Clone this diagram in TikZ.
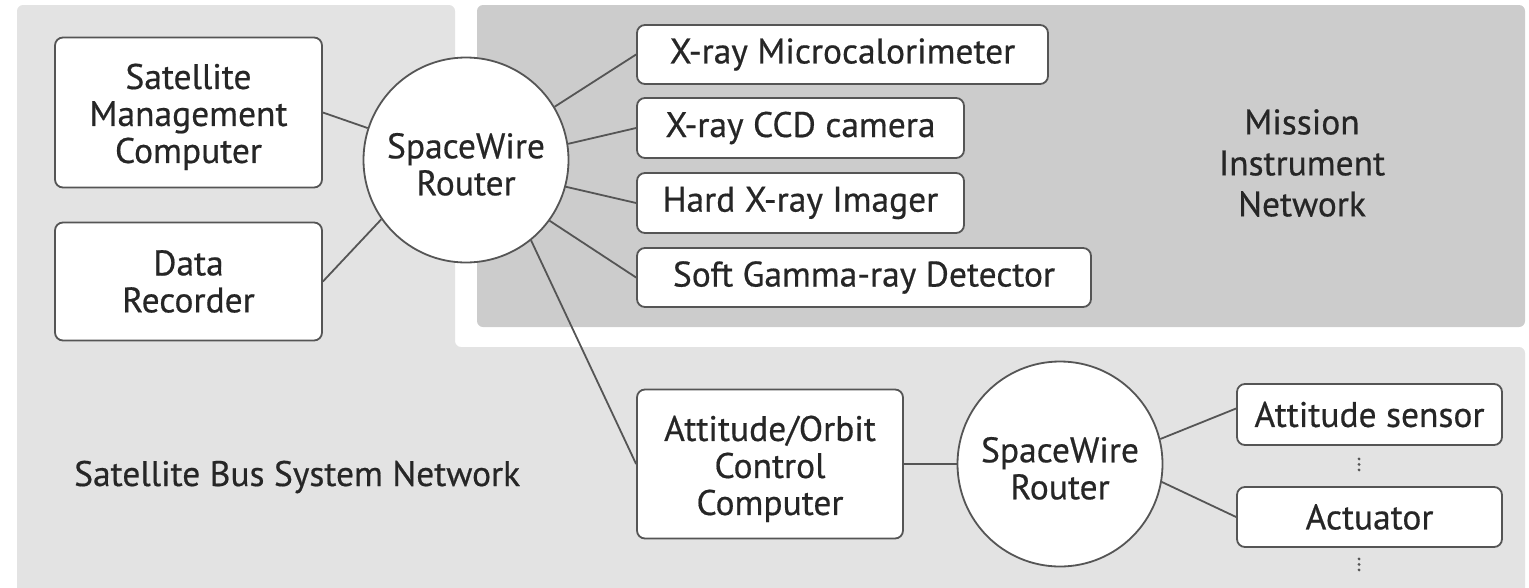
\documentclass[tikz,border=0pt]{standalone}
\usepackage{fontspec}
\setmainfont{PT Sans}[FakeBold=0.5]
\usetikzlibrary{calc}
\definecolor{lightbg}{HTML}{E3E3E3}
\definecolor{darkbg}{HTML}{CCCCCC}
\definecolor{edge}{HTML}{555555}
\definecolor{ink}{HTML}{262626}
\newcommand{\toppad}[1]{\rule{0pt}{#1}}
\tikzset{
  lbl/.style={font=\fontsize{35.5}{37}\selectfont, text=ink, align=center, inner sep=0pt},
  unitbox/.style={lbl, draw=edge, line width=1.8pt, fill=white, rounded corners=8pt},
  router/.style={lbl, draw=edge, line width=1.8pt, fill=white, circle, minimum size=205pt},
  link/.style={draw=edge, line width=1.8pt},
}
\begin{document}
\begin{tikzpicture}[x=1pt,y=-1pt]
\useasboundingbox (0,0) rectangle (1529,587);
% regions
\fill[lightbg, rounded corners=6pt] (17,5) -- (455,5) -- (455,347) -- (1525,347) -- (1525,600) -- (17,600) -- cycle;
\fill[darkbg, rounded corners=6pt] (477,5) rectangle (1525,327);
% nodes
\node[unitbox, minimum width=267pt, minimum height=150pt] (smc) at (188.5,112.5) {\toppad{34pt}Satellite\\Management\\Computer};
\node[unitbox, minimum width=267pt, minimum height=118pt] (dr) at (188.5,281.5) {Data\\Recorder};
\node[router] (swr1) at (466,160) {\toppad{34pt}SpaceWire\\Router};
\node[unitbox, minimum width=411pt, minimum height=59pt] (xmc) at (842.5,54.5) {X-ray Microcalorimeter};
\node[unitbox, minimum width=327pt, minimum height=60pt] (ccd) at (800.5,128) {X-ray CCD camera};
\node[unitbox, minimum width=327pt, minimum height=60pt] (hxi) at (800.5,203) {Hard X-ray Imager};
\node[unitbox, minimum width=454pt, minimum height=59pt] (sgd) at (864,277.5) {Soft Gamma-ray Detector};
\node[unitbox, minimum width=266pt, minimum height=149pt] (aocc) at (770,464) {\toppad{35pt}Attitude/Orbit\\Control\\Computer};
\node[router] (swr2) at (1060,464) {\toppad{34pt}SpaceWire\\Router};
\node[unitbox, minimum width=265pt, minimum height=61pt] (as) at (1369.5,414.5) {Attitude sensor};
\node[unitbox, minimum width=265pt, minimum height=60pt] (act) at (1369.5,517) {Actuator};
\node[lbl, anchor=base west] (busnet) at (74,486) {Satellite Bus System Network};
\node[lbl, font=\fontsize{35.5}{41}\selectfont] (minet) at (1302,163) {Mission\\Instrument\\Network};
% connectors
\draw[link] (smc.east) -- (swr1.162);
\draw[link] (dr.east) -- (swr1.215.5);
\draw[link] (swr1.31) -- (xmc.west);
\draw[link] (swr1.9.6) -- (ccd.west);
\draw[link] (swr1.-15) -- (hxi.west);
\draw[link] (swr1.-36.4) -- (sgd.west);
\draw[link] (swr1.-51) -- (aocc.west);
\draw[link] (aocc.east) -- (swr2.west);
\draw[link] (swr2.14) -- ($(as.west)+(0,-6)$);
\draw[link] (swr2.-10) -- (act.west);
% continuation dots
\foreach \d in {0,5.5,11} {
  \fill[edge] ($(as.south)+(-10.5,13+\d)$) circle (1.6pt);
  \fill[edge] ($(act.south)+(-10.5,11+\d)$) circle (1.6pt);
}
\end{tikzpicture}
\end{document}
